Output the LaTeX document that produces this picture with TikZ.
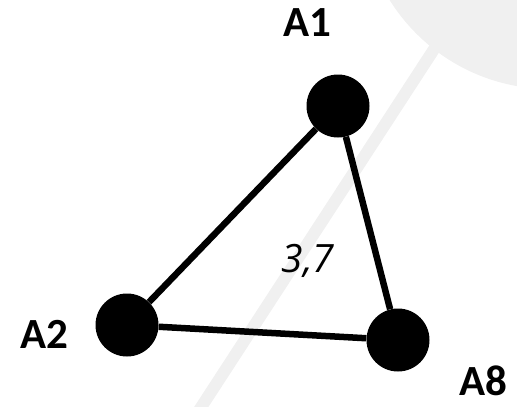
\documentclass[tikz,border=0pt]{standalone}
\usepackage{fontspec}
\setmainfont{Carlito}
\newfontfamily\numfont{Open Sans}
\usetikzlibrary{positioning}

\begin{document}
\begin{tikzpicture}[x=1pt,y=-1pt,on grid,
   dot/.style={circle,fill=black,minimum size=63pt,inner sep=0pt},
   lbl/.style={font=\fontsize{43}{43}\selectfont\bfseries,inner sep=0pt},
   link/.style={line width=6.5pt},
   wmark/.style={fill=black!6,draw=none}]
  \clip (0,0) rectangle (517,407);
  % faint watermark behind the graph
  \fill[wmark] (550,-100) circle (189);
  \draw[black!6,line width=12pt] (440,40) -- (198,412);
  % vertices
  \node[dot] (a1) at (338,106) {};
  \node[dot] (a2) [below left=219pt and 211pt of a1] {};
  \node[dot] (a8) [below right=234pt and 60pt of a1] {};
  \node[lbl] (l1) [above left=83pt and 31pt of a1] {A1};
  \node[lbl] (l2) [below left=9pt and 83pt of a2] {A2};
  \node[lbl] (l8) [below right=41pt and 85pt of a8] {A8};
  \node[font=\fontsize{39}{39}\selectfont\numfont\itshape,inner sep=0pt] (w) at (308,261) {3,7};
  \draw[link] (a1) -- (a2) (a2) -- (a8) (a8) -- (a1);
\end{tikzpicture}
\end{document}
